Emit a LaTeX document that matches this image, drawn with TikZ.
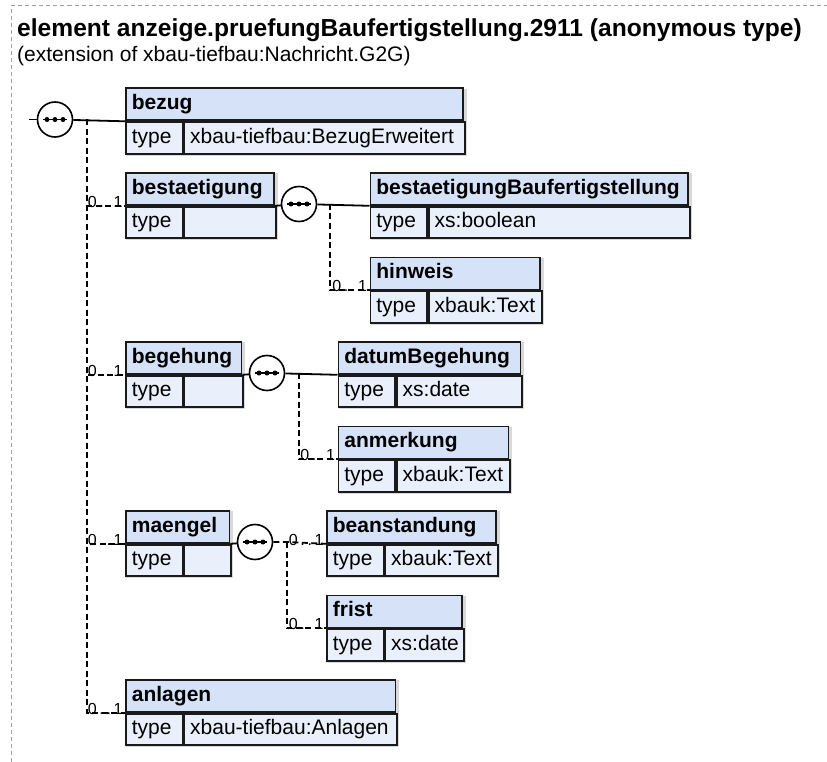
\documentclass[tikz,border=0pt]{standalone}
\usepackage{fontspec}
\setmainfont{Liberation Sans}
\usetikzlibrary{positioning,backgrounds}
\definecolor{hdfill}{RGB}{213,226,247}
\definecolor{rowfill}{RGB}{233,240,252}
\definecolor{edge}{RGB}{26,26,26}

\begin{document}
\begin{tikzpicture}[x=1pt, y=-1pt,
    cell/.style={draw=edge, line width=1.8pt, anchor=north west, inner ysep=0pt, inner xsep=6pt,
                 text height=15pt, text depth=4.5pt, align=left, font=\fontsize{21pt}{24pt}\selectfont},
    hd/.style={cell, fill=hdfill, minimum height=32pt, text width=#1-12pt,
               font=\fontsize{21pt}{24pt}\selectfont\bfseries},
    tp/.style={cell, fill=rowfill, minimum height=31.5pt, text width=44.5pt},
    val/.style={cell, fill=rowfill, minimum height=31.5pt, text width=#1-12pt},
    seq/.style={draw, circle, fill=white, line width=1.6pt, minimum size=35pt, inner sep=0pt},
    con/.style={line width=1.8pt},
    opt/.style={con, dash pattern=on 6pt off 3.5pt},
    card/.style={anchor=base east, inner sep=0pt, xshift=-1.5pt, yshift=-1.5pt,
                 font=\fontsize{16pt}{18pt}\selectfont},
    frame/.style={draw=gray!75, line width=1pt, dash pattern=on 4pt off 3pt}]
  \useasboundingbox (0,0) rectangle (827,762);
  \draw[frame] (11.5,762) -- (11.5,6) -- (827,6);
  \node[anchor=base west, inner sep=0pt, font=\fontsize{24.6pt}{28pt}\selectfont\bfseries] (title) at (17,36.5)
    {element anzeige.pruefungBaufertigstellung.2911 (anonymous type)};
  \node[anchor=base west, inner sep=0pt, font=\fontsize{21pt}{24pt}\selectfont] (ext) at (17,61.5)
    {(extension of xbau-tiefbau:Nachricht.G2G)};

  % element boxes: name, type, value
  \node[hd=337] (bezug) at (125,87.5) {bezug};
  \node[tp, below right=0pt and 0pt of bezug.south west] (bezug-t) {type};
  \node[val=280.5, right=0pt of bezug-t] (bezug-v) {xbau-tiefbau:BezugErweitert};

  \node[hd=148] (bestaet) at (125,172) {bestaetigung};
  \node[tp, below right=0pt and 0pt of bestaet.south west] (bestaet-t) {type};
  \node[val=91.5, right=0pt of bestaet-t] (bestaet-v) {};

  \node[hd=317.5] (bestBauf) at (369.5,172) {bestaetigungBaufertigstellung};
  \node[tp, below right=0pt and 0pt of bestBauf.south west] (bestBauf-t) {type};
  \node[val=261, right=0pt of bestBauf-t] (bestBauf-v) {xs:boolean};

  \node[hd=169.5] (hinweis) at (369.5,256.5) {hinweis};
  \node[tp, below right=0pt and 0pt of hinweis.south west] (hinweis-t) {type};
  \node[val=113, right=0pt of hinweis-t] (hinweis-v) {xbauk:Text};

  \node[hd=115.5] (begehung) at (125,341) {begehung};
  \node[tp, below right=0pt and 0pt of begehung.south west] (begehung-t) {type};
  \node[val=59, right=0pt of begehung-t] (begehung-v) {};

  \node[hd=182] (datum) at (337.5,341) {datumBegehung};
  \node[tp, below right=0pt and 0pt of datum.south west] (datum-t) {type};
  \node[val=125.5, right=0pt of datum-t] (datum-v) {xs:date};

  \node[hd=170] (anmerkung) at (337.5,425.5) {anmerkung};
  \node[tp, below right=0pt and 0pt of anmerkung.south west] (anmerkung-t) {type};
  \node[val=113.5, right=0pt of anmerkung-t] (anmerkung-v) {xbauk:Text};

  \node[hd=103.5] (maengel) at (125,510) {maengel};
  \node[tp, below right=0pt and 0pt of maengel.south west] (maengel-t) {type};
  \node[val=47, right=0pt of maengel-t] (maengel-v) {};

  \node[hd=169] (beanst) at (326,510) {beanstandung};
  \node[tp, below right=0pt and 0pt of beanst.south west] (beanst-t) {type};
  \node[val=112.5, right=0pt of beanst-t] (beanst-v) {xbauk:Text};

  \node[hd=135] (frist) at (326,594.5) {frist};
  \node[tp, below right=0pt and 0pt of frist.south west] (frist-t) {type};
  \node[val=78.5, right=0pt of frist-t] (frist-v) {xs:date};

  \node[hd=269.5] (anlagen) at (125,679) {anlagen};
  \node[tp, below right=0pt and 0pt of anlagen.south west] (anlagen-t) {type};
  \node[val=213, right=0pt of anlagen-t] (anlagen-v) {xbau-tiefbau:Anlagen};

  \begin{scope}[on background layer]
    \foreach \b in {bezug,bestaet,bestBauf,hinweis,begehung,datum,anmerkung,maengel,beanst,frist,anlagen}
      \fill[black!15] ([shift={(1.2pt,-1.2pt)}]\b.north west) rectangle ([shift={(1.2pt,-1.2pt)}]\b-v.south east);
  \end{scope}

  % sequence compositors
  \node[seq] (s0) at (55,119.5) {};
  \node[seq] (s1) at (299,204) {};
  \node[seq] (s2) at (267,373) {};
  \node[seq] (s3) at (255,542) {};
  \foreach \s in {s0,s1,s2,s3} {
    \draw[line width=1.4pt] ([xshift=-12pt]\s.center) -- ([xshift=12pt]\s.center);
    \foreach \d in {-8,0,8}
      \fill ([xshift=\d pt]\s.center) circle (2.5pt);
  }

  \coordinate (in) at (29,119.5);
  \coordinate (j0) at (87,119.5);
  \coordinate (j1) at (330,204);
  \coordinate (j2) at (299,373);
  \coordinate (j3) at (287,542);

  \draw[con] (in) -- (s0);
  \draw[con] (s0) -- (bezug.south west);
  \draw[opt] (j0) |- (bestaet.south west) node[card] {0\,.\,.\,1};
  \draw[opt] (j0) |- (begehung.south west) node[card] {0\,.\,.\,1};
  \draw[opt] (j0) |- (maengel.south west) node[card] {0\,.\,.\,1};
  \draw[opt] (j0) |- (anlagen.south west) node[card] {0\,.\,.\,1};

  \draw[con] (bestaet.south east) -- (s1);
  \draw[con] (s1) -- (bestBauf.south west);
  \draw[opt] (j1) |- (hinweis.south west) node[card] {0\,.\,.\,1};

  \draw[con] (begehung.south east) -- (s2);
  \draw[con] (s2) -- (datum.south west);
  \draw[opt] (j2) |- (anmerkung.south west) node[card] {0\,.\,.\,1};

  \draw[con] (maengel.south east) -- (s3);
  \draw[opt] (s3) -- (j3) -- (beanst.south west) node[card] {0\,.\,.\,1};
  \draw[opt] (j3) |- (frist.south west) node[card] {0\,.\,.\,1};
\end{tikzpicture}
\end{document}
